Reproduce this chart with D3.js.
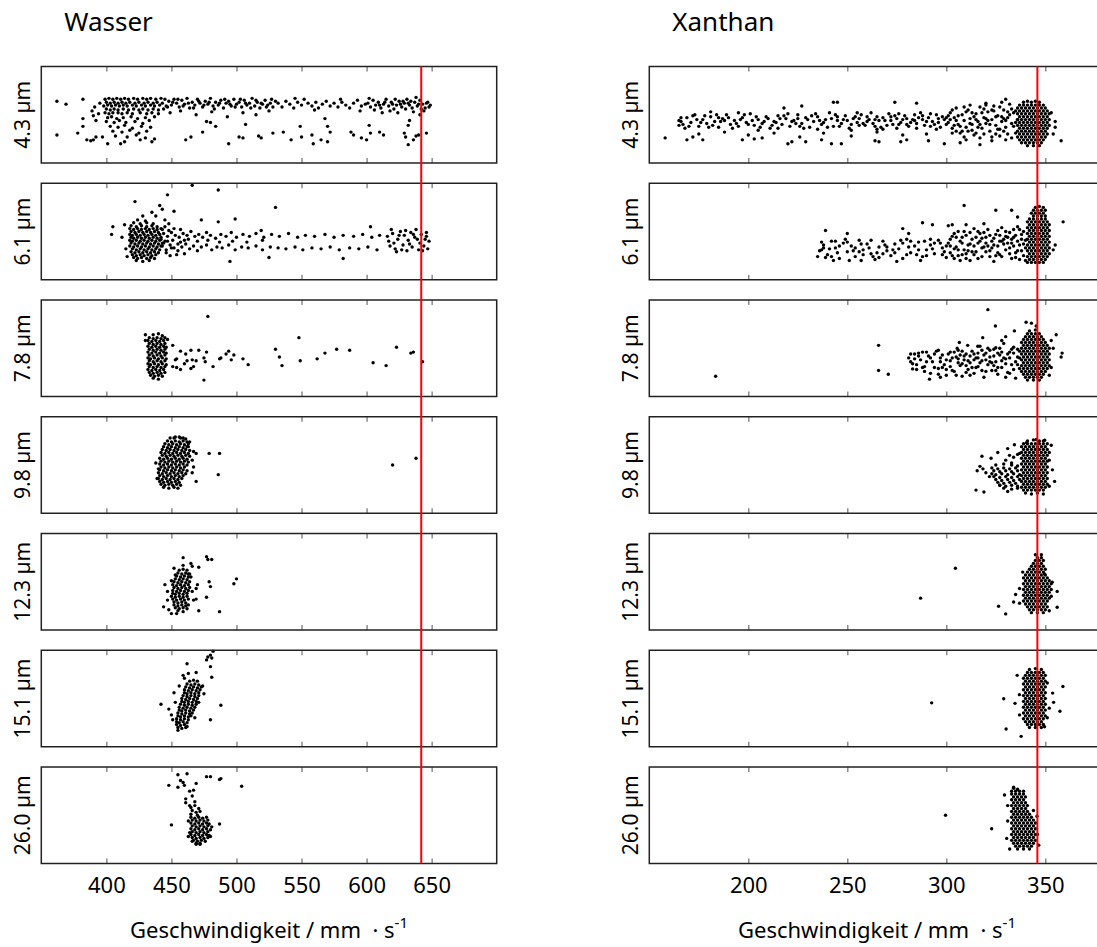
<!DOCTYPE html>
<html>
<head>
<meta charset="utf-8">
<script src="https://cdn.jsdelivr.net/npm/d3@7"></script>
<style>
  body { margin: 0; background: #fff; }
  text { font-family: "Noto Sans", "Open Sans", sans-serif; fill: #000; }
</style>
</head>
<body>
<script>
// particle diameters, one row of panels each
const diameters = ["4.3 µm", "6.1 µm", "7.8 µm", "9.8 µm", "12.3 µm", "15.1 µm", "26.0 µm"]
const wasserTicks = [400, 450, 500, 550, 600, 650]
const xanthanTicks = [200, 250, 300, 350]
const wasserLine = 642
const xanthanLine = 346

// points as flat lists: speed (mm/s), position in panel (0..100)
const wasser_43 = [
362,64, 369,61, 362,29, 382,66, 378,31, 382,46, 382,38, 385,24, 388,23, 390,24, 392,27, 397,27, 401,20, 411,20, 414,22, 426,24, 435,22, 437,25, 389,54, 391,58, 392,44, 390,49, 394,51, 395,62,
461,24, 465,27, 474,32, 477,43, 480,42, 484,38, 494,20, 502,27, 505,26, 507,40, 517,28, 519,26, 528,31, 536,32, 542,24, 549,38, 550,27, 559,20, 558,29, 565,24, 568,46, 570,38, 572,32, 570,22, 588,32, 590,29, 596,26, 600,24, 602,39, 603,31, 610,32, 613,29, 629,31, 630,27, 632,19, 636,24, 640,29, 632,39, 633,44, 646,31, 641,50, 638,28,
399,66, 402,67, 405,66, 408,67, 411,66, 414,67, 417,66, 421,67, 424,66, 428,67, 431,66, 434,67, 438,66, 442,67, 445,66,
400,63, 403,62, 406,63, 409,62, 412,63, 415,62, 418,63, 422,62, 425,63, 429,62, 432,63, 436,62, 439,63, 443,62,
398,59, 401,60, 404,59, 407,60, 410,59, 413,60, 416,59, 420,60, 423,59, 427,60, 430,59, 434,60, 437,59, 441,60, 446,59,
400,56, 403,55, 406,56, 409,55, 413,56, 417,55, 421,56, 425,55, 428,56, 432,55, 436,56, 440,55, 444,56,
399,52, 402,51, 405,52, 409,52, 412,51, 416,52, 420,51, 426,52, 431,51, 435,52, 440,51,
401,47, 404,48, 408,46, 413,47, 419,48, 424,46, 430,47, 437,48,
400,43, 406,42, 410,44, 415,42, 422,43, 428,41, 433,44,
403,38, 409,37, 414,39, 420,36, 427,38, 434,37,
405,33, 412,32, 418,34, 425,31, 431,33,
407,28, 416,27, 423,29, 430,26,
448,64, 450,60, 452,66, 454,62, 456,58, 458,65, 460,61, 462,67, 464,57, 466,63, 468,60, 470,66, 472,62, 474,58, 476,64, 478,61, 480,67, 482,59, 484,63, 486,60, 488,65, 490,57, 492,62, 494,64, 496,59, 498,66, 500,61, 502,63, 504,58, 506,65, 508,60, 510,62, 512,67, 514,59, 516,63, 518,57, 520,61, 522,65, 524,60, 526,62, 528,58, 530,64,
447,58, 451,63, 455,66, 459,59, 463,62, 467,57, 471,64, 475,60, 479,63, 483,56, 487,62, 491,66, 495,61, 499,58, 503,66, 507,62, 511,57, 515,65, 519,62, 523,58, 527,66,
449,52, 457,54, 469,50, 481,53, 493,48, 505,52, 515,50, 525,54,
532,62, 535,58, 538,64, 541,61, 544,57, 547,63, 550,60, 552,66, 555,62, 558,59, 561,63, 563,57, 566,61, 569,64, 572,59, 575,62, 578,58, 581,63, 584,60, 587,57, 590,62, 593,65, 596,59, 599,61, 545,67, 560,55, 580,66, 595,54,
601,62, 603,58, 605,65, 607,60, 609,63, 611,57, 613,61, 615,66, 617,59, 619,63, 621,56, 623,60, 625,64, 627,58, 629,62, 631,66, 633,60, 635,57, 637,63, 639,59, 641,65, 643,61, 645,57, 647,63, 649,60,
602,67, 606,55, 610,60, 614,63, 618,54, 622,66, 626,61, 630,56, 634,64, 638,68, 642,56, 646,62, 648,58, 624,52, 636,53, 644,54, 612,52, 620,61, 628,64, 640,61, 632,62
]

const wasser_61 = [
466,98, 486,93, 447,88, 422,81, 441,77, 443,73, 435,70, 438,66, 452,71, 530,75, 473,62, 486,60, 499,63, 405,55, 404,47, 519,51, 603,55, 495,19, 582,22, 525,23, 414,57, 412,44, 415,32, 416,24, 428,66, 445,62, 448,58,
424,62, 430,61, 421,59, 426,58, 431,59, 436,58,
419,56, 423,55, 427,56, 431,55, 435,56, 439,55,
418,53, 421,52, 424,53, 427,52, 430,53, 433,52, 436,53, 439,52, 442,53,
419,50, 422,49, 425,50, 428,49, 431,50, 434,49, 437,50, 440,49,
418,47, 420,46, 423,47, 426,46, 429,47, 432,46, 435,47, 438,46, 441,47,
419,44, 421,43, 424,44, 427,43, 430,44, 433,43, 436,44, 439,43, 442,44,
418,41, 420,40, 423,41, 426,40, 429,41, 432,40, 435,41, 438,40, 441,41,
419,38, 422,37, 425,38, 428,37, 431,38, 434,37, 437,38, 440,37, 443,38,
418,35, 421,34, 424,35, 427,34, 430,35, 433,34, 436,35, 439,34, 442,35,
420,32, 423,31, 426,32, 429,31, 432,32, 435,31, 438,32, 441,31,
419,29, 422,28, 425,29, 428,28, 431,29, 434,28, 437,29, 440,28,
420,26, 423,25, 426,26, 429,25, 432,26, 435,25, 438,26,
421,23, 424,22, 427,23, 431,22, 434,23, 437,22, 423,20, 428,19, 433,20,
444,48, 447,45, 450,49, 453,46, 456,44, 459,48, 462,46, 465,50, 468,45, 471,47, 474,44, 477,49, 480,46, 484,43, 488,47, 492,45, 496,49, 500,44, 505,47, 510,45, 515,48, 521,44, 527,47, 533,45, 540,48, 547,44, 553,46, 560,45, 568,47, 575,44, 582,46, 590,45, 597,47, 604,44, 610,46,
443,35, 446,31, 449,36, 452,33, 455,30, 458,34, 461,37, 464,32, 467,35, 470,30, 473,34, 477,36, 481,31, 485,34, 489,33, 494,36, 499,31, 504,34, 509,33, 515,35, 520,31, 526,34, 532,33, 538,32, 545,34, 551,31, 558,33, 565,32, 572,34, 579,31, 587,33, 594,32, 601,34, 608,31,
445,40, 451,41, 457,39, 463,42, 470,40, 478,41, 487,39, 497,40, 508,39, 520,41,
442,42, 443,52, 445,55, 446,28, 448,51, 449,25, 452,53, 454,26, 457,52, 460,27, 444,38, 447,40, 450,33, 455,37, 460,41,
616,45, 618,35, 620,48, 622,32, 624,42, 626,50, 628,36, 629,46, 631,30, 632,41, 634,49, 635,34, 637,44, 638,52, 640,31, 641,38, 642,47, 644,35, 645,42, 646,49, 647,32, 648,40, 617,40, 621,38, 625,46, 627,31, 630,51, 633,37, 636,47, 639,42, 643,30, 646,45, 619,52, 623,29
]

const wasser_78 = [
478,83, 430,64, 430,58, 451,53, 447,59, 457,47, 461,44, 465,48, 471,48, 477,46, 475,40, 476,36, 469,37, 466,38, 462,37, 454,39, 453,38, 451,31, 454,30, 457,28, 460,34, 465,29, 467,31, 475,17,
482,31, 487,39, 488,40, 492,44, 494,47, 498,43, 496,38, 505,39, 509,33, 530,49, 533,41, 535,32, 548,61, 549,37, 562,39, 568,45, 577,49, 587,48, 605,35, 615,32, 623,51, 634,45, 636,46, 643,36,
436,64, 440,65, 443,63,
433,61, 436,60, 439,61, 442,60, 445,61,
432,58, 435,57, 438,58, 441,57, 444,58,
433,55, 436,54, 439,55, 442,54, 445,55,
432,52, 435,51, 438,52, 441,51, 444,52, 446,51,
433,49, 436,48, 439,49, 442,48, 445,49,
432,46, 435,45, 438,46, 441,45, 444,46, 446,45,
433,43, 436,42, 439,43, 442,42, 445,43,
432,40, 434,39, 437,40, 440,39, 443,40, 446,39,
433,37, 436,36, 439,37, 442,36, 445,37,
432,34, 434,33, 437,34, 440,33, 443,34, 446,33,
433,31, 436,30, 439,31, 442,30, 445,31,
432,28, 435,27, 438,28, 441,27, 444,28,
433,25, 436,24, 439,25, 442,24, 445,25,
434,22, 437,21, 440,22, 443,21, 436,19, 440,18
]

const wasser_98 = [
440,46, 469,62, 467,64, 463,69, 464,74, 459,78, 456,79, 452,78, 479,62, 487,62, 486,40, 469,33, 466,42, 620,50, 638,57, 466,55, 467,48, 438,52, 439,36,
449,78, 453,79, 457,78, 461,77,
447,75, 450,74, 453,75, 456,74, 459,75, 462,74,
445,72, 448,71, 451,72, 454,71, 457,72, 460,71, 463,72,
444,69, 447,68, 450,69, 453,68, 456,69, 459,68, 462,69,
443,66, 446,65, 449,66, 452,65, 455,66, 458,65, 461,66, 464,65,
442,63, 445,62, 448,63, 451,62, 454,63, 457,62, 460,63, 463,62,
443,60, 446,59, 449,60, 452,59, 455,60, 458,59, 461,60, 464,59,
441,57, 444,56, 447,57, 450,56, 453,57, 456,56, 459,57, 462,56,
442,54, 445,53, 448,54, 451,53, 454,54, 457,53, 460,54, 463,53,
441,51, 444,50, 447,51, 450,50, 453,51, 456,50, 459,51, 462,50,
442,48, 445,47, 448,48, 451,47, 454,48, 457,47, 460,48,
441,45, 444,44, 447,45, 450,44, 453,45, 456,44, 459,45, 462,44,
440,42, 443,41, 446,42, 449,41, 452,42, 455,41, 458,42, 461,41,
441,39, 444,38, 447,39, 450,38, 453,39, 456,38, 459,39,
440,36, 443,35, 446,36, 449,35, 452,36, 455,35, 458,36,
441,33, 444,32, 447,33, 450,32, 453,33, 456,32,
442,30, 445,29, 448,30, 451,29, 454,30, 457,29,
444,27, 448,26, 452,27, 455,26
]

const wasser_123 = [
459,75, 459,67, 452,64, 453,57, 450,51, 445,47, 447,40, 447,31, 444,24, 448,21, 450,17, 454,17, 465,69, 466,66, 463,58, 471,65, 477,76, 478,73, 481,73, 479,50, 480,45, 470,47, 469,43, 477,34, 471,20, 487,19, 498,48, 500,53, 467,31, 469,32, 465,55, 466,40,
456,62, 459,63, 462,62,
455,59, 458,58, 461,59, 464,58,
454,56, 457,55, 460,56, 463,55,
453,53, 456,52, 459,53, 462,52,
452,50, 455,49, 458,50, 461,49, 464,50,
451,47, 454,46, 457,47, 460,46, 463,47,
452,44, 455,43, 458,44, 461,43, 464,44,
451,41, 454,40, 457,41, 460,40, 463,41,
451,38, 453,37, 456,38, 459,37, 462,38,
450,35, 453,34, 456,35, 459,34, 462,35,
451,32, 454,31, 457,32, 460,31, 463,32,
452,29, 455,28, 458,29, 461,28,
452,26, 455,25, 458,26, 461,25, 463,26,
453,23, 456,22, 459,23, 462,22, 455,20, 459,19
]

const wasser_151 = [
477,90, 480,95, 482,99, 481,92, 478,93, 480,83, 481,72, 462,86, 469,77, 463,76, 459,74, 460,71, 488,43, 480,28, 442,44, 448,39, 453,46, 450,33, 451,28, 452,56, 455,17, 462,21, 474,63, 475,55, 456,63, 471,46, 468,30,
464,68, 467,69, 470,68,
462,65, 465,64, 468,65, 471,64,
461,62, 464,61, 467,62, 470,61, 473,62,
460,59, 463,58, 466,59, 469,58, 472,59,
460,56, 462,55, 465,56, 468,55, 471,56,
459,53, 462,52, 465,53, 468,52, 471,53,
458,50, 461,49, 464,50, 467,49, 470,50,
458,47, 460,46, 463,47, 466,46, 469,47,
457,44, 460,43, 463,44, 466,43, 469,44,
456,41, 459,40, 462,41, 465,40, 468,41,
456,38, 458,37, 461,38, 464,37, 467,38,
455,35, 458,34, 461,35, 464,34, 466,35,
455,32, 457,31, 460,32, 463,31, 465,32,
454,29, 457,28, 460,29, 463,28,
454,26, 456,25, 459,26, 462,25,
454,23, 457,22, 460,23, 455,20, 458,19, 461,20
]

const wasser_260 = [
455,92, 462,93, 448,81, 457,86, 459,84, 460,81, 455,79, 469,83, 464,75, 467,76, 466,70, 461,67, 461,63, 468,64, 464,60, 477,90, 480,90, 487,87, 488,88, 504,80, 450,40, 487,41, 464,32, 466,23, 469,20, 472,21, 463,44, 481,38, 480,28, 463,28,
465,58, 468,60, 471,57, 466,55, 469,53, 472,54, 465,51, 470,50,
465,48, 468,47, 471,48, 474,47, 477,48,
466,45, 469,44, 472,45, 475,44, 478,45,
465,42, 468,41, 471,42, 474,41, 477,42, 479,41,
466,39, 469,38, 472,39, 475,38, 478,39,
465,36, 468,35, 471,36, 474,35, 477,36, 480,35,
466,33, 469,32, 472,33, 475,32, 478,33,
465,30, 468,29, 471,30, 474,29, 477,30, 479,29,
466,27, 469,26, 472,27, 475,26, 478,27,
467,24, 470,23, 473,24, 476,23, 469,21, 472,20
]

const xanthan_43 = [
158,26, 165,39, 166,43, 169,24, 172,27, 177,24, 181,53, 197,24, 203,25, 207,26, 218,57, 220,20, 222,22, 227,59, 229,22, 237,24, 242,20, 243,63, 245,63, 247,20, 264,23, 266,22, 274,63, 277,22, 280,24, 285,62, 291,23, 299,20, 307,21, 310,24, 317,19, 323,23, 358,23, 355,43, 355,37, 353,52, 354,30, 320,60, 330,66,
165,44, 167,40, 169,47, 171,42, 173,50, 175,38, 177,45, 179,41, 181,48, 183,43, 185,37, 187,46, 189,50, 191,40, 193,44, 195,38, 197,47, 199,42, 201,51, 203,39, 205,45, 207,41, 209,48, 211,36, 213,43, 215,49, 217,40, 219,46, 221,38, 223,44, 225,50, 227,41, 229,47, 231,37, 233,43, 235,48, 237,40, 239,45, 241,52, 243,38, 245,44, 247,41, 249,49, 251,36, 253,46, 255,42, 257,50, 259,39, 261,45, 263,41, 265,48, 267,37, 269,44, 271,51, 273,40, 275,46, 277,42, 279,49, 281,38, 283,45, 285,41, 287,52, 289,39, 291,47, 293,43, 295,50, 297,37, 299,45,
166,47, 170,38, 174,45, 178,49, 182,39, 186,43, 190,47, 194,41, 198,50, 202,44, 206,37, 210,46, 214,42, 218,49, 222,43, 226,38, 230,45, 234,51, 238,42, 242,46, 246,38, 250,44, 254,48, 258,41, 262,52, 266,44, 270,39, 274,49, 278,45, 282,42, 286,47, 290,43, 294,40, 298,48,
168,36, 172,49, 176,42, 180,37, 184,50, 188,44, 192,36, 196,45, 200,40, 204,48, 208,43, 212,39, 216,46, 220,51, 224,41, 228,36, 232,49, 236,44, 240,37, 244,50, 248,45, 252,34, 256,39, 260,48, 264,45, 268,35, 272,48, 276,51, 280,40, 284,44, 288,49, 292,51, 296,46, 300,40, 185,47, 195,52, 205,34, 215,36, 225,46, 235,35, 245,48, 255,52, 265,35, 275,36, 285,36, 295,35,
175,30, 188,32, 200,29, 213,31, 226,27, 238,31, 252,28, 265,32, 278,29, 290,30,
252,40, 256,46, 260,43, 264,38, 268,47, 272,44, 276,40, 280,46, 284,50, 288,45, 292,38, 296,42, 300,47,
301,42, 302,52, 303,36, 304,47, 305,57, 306,40, 307,31, 308,50, 309,44, 310,37, 311,55, 312,46, 313,40, 314,29, 315,51, 316,43, 317,58, 318,36, 319,47, 320,41, 321,53, 322,33, 323,45, 324,59, 325,39, 326,49, 327,28, 328,43, 329,55, 330,37, 331,47, 332,61, 333,41, 334,52, 335,31,
302,45, 304,39, 306,49, 308,33, 310,53, 312,41, 314,48, 316,37, 318,52, 320,46, 322,40, 324,54, 326,35, 328,48, 330,44, 332,50, 334,38, 336,45, 312,60, 320,62, 328,63, 305,33, 315,31, 325,30, 333,26, 330,24,
301,49, 303,55, 305,44, 307,38, 309,58, 311,33, 313,52, 315,45, 317,40, 319,30, 321,44, 323,55, 325,48, 327,35, 329,46, 331,30, 333,56, 335,42, 303,31, 309,27, 317,26, 323,27, 329,33, 335,54, 319,56, 327,58, 331,53, 313,34,
339,63, 341,64, 343,63, 345,64, 347,63,
337,60, 339,60, 341,60, 343,60, 345,60, 347,60, 349,60,
336,57, 338,57, 340,57, 342,57, 344,57, 346,57, 348,57, 350,57,
337,54, 339,54, 341,54, 343,54, 345,54, 347,54, 349,54, 351,54,
336,51, 338,51, 340,51, 342,51, 344,51, 346,51, 348,51, 350,51, 352,51,
337,48, 339,48, 341,48, 343,48, 345,48, 347,48, 349,48, 351,48,
336,45, 338,45, 340,45, 342,45, 344,45, 346,45, 348,45, 350,45, 352,45,
337,42, 339,42, 341,42, 343,42, 345,42, 347,42, 349,42, 351,42,
336,39, 338,39, 340,39, 342,39, 344,39, 346,39, 348,39, 350,39, 352,39,
337,36, 339,36, 341,36, 343,36, 345,36, 347,36, 349,36, 351,36,
336,33, 338,33, 340,33, 342,33, 344,33, 346,33, 348,33, 350,33,
337,30, 339,30, 341,30, 343,30, 345,30, 347,30, 349,30, 351,30,
336,27, 338,27, 340,27, 342,27, 344,27, 346,27, 348,27, 350,27,
337,24, 339,24, 341,24, 343,24, 345,24, 347,24, 349,24,
338,21, 340,21, 342,21, 344,21, 346,21, 348,21, 341,18, 344,18, 347,18
]

const xanthan_61 = [
309,77, 325,72, 333,72, 336,65, 359,60, 355,36, 354,31, 288,59, 293,57, 301,56, 303,57, 310,57, 319,58, 278,53, 281,48, 239,51, 235,24, 237,31, 250,48, 243,20, 257,20,
236,30, 238,36, 240,26, 242,40, 244,33, 246,22, 248,38, 250,29, 252,35, 254,24, 256,41, 258,31, 260,37, 262,27, 264,21, 266,34, 268,40, 270,30, 272,25, 274,37, 276,32, 278,22, 280,42, 282,28, 284,35, 286,39, 288,24, 290,31, 292,36, 294,27, 296,41, 298,33, 300,23,
237,39, 241,32, 245,28, 249,42, 253,30, 257,37, 261,33, 265,28, 269,36, 273,31, 277,41, 281,34, 285,26, 289,40, 293,32, 297,38, 239,23, 251,20, 263,24, 275,19, 287,20, 299,29,
238,33, 242,24, 246,35, 250,39, 254,33, 258,26, 262,41, 266,23, 270,34, 274,28, 278,38, 282,40, 286,31, 290,25, 294,38, 298,26, 244,40, 256,29, 268,27, 280,26, 292,42, 300,35,
301,38, 302,28, 303,45, 304,22, 305,34, 306,50, 307,40, 308,26, 309,31, 310,46, 311,36, 312,20, 313,42, 314,53, 315,29, 316,38, 317,48, 318,24, 319,34, 320,44, 321,52, 322,30, 323,40, 324,19, 325,47, 326,35, 327,26, 328,54, 329,42, 330,31, 331,38, 332,49, 333,22, 334,44, 335,28, 336,55, 337,36, 338,47, 339,25, 340,41,
302,42, 304,32, 306,25, 308,38, 310,27, 312,49, 314,35, 316,22, 318,43, 320,29, 322,46, 324,36, 326,51, 328,24, 330,45, 332,33, 334,52, 336,40, 338,30, 340,20, 317,40, 323,33, 329,37, 335,46, 311,30, 305,44, 327,40, 333,42, 339,50, 337,21,
302,35, 304,48, 306,31, 308,44, 310,22, 312,37, 314,26, 316,50, 318,33, 320,38, 322,24, 324,43, 326,28, 328,40, 330,50, 332,27, 334,35, 336,30, 338,42, 340,33, 303,25, 309,50, 315,44, 321,35, 327,46, 333,38, 339,37, 307,20, 313,29, 319,49, 325,25, 331,44, 337,52, 335,23,
345,75, 347,76, 349,75, 344,72, 346,72, 348,72, 350,72, 343,69, 345,69, 347,69, 349,69, 344,66, 346,66, 348,66, 350,66,
342,63, 344,63, 346,63, 348,63, 350,63,
341,60, 343,60, 345,60, 347,60, 349,60, 351,60,
342,57, 344,57, 346,57, 348,57, 350,57, 352,57,
341,54, 343,54, 345,54, 347,54, 349,54, 351,54,
342,51, 344,51, 346,51, 348,51, 350,51, 352,51,
341,48, 343,48, 345,48, 347,48, 349,48, 351,48,
342,45, 344,45, 346,45, 348,45, 350,45, 352,45,
341,42, 343,42, 345,42, 347,42, 349,42, 351,42,
342,39, 344,39, 346,39, 348,39, 350,39, 352,39,
341,36, 343,36, 345,36, 347,36, 349,36, 351,36,
342,33, 344,33, 346,33, 348,33, 350,33, 352,33,
341,30, 343,30, 345,30, 347,30, 349,30, 351,30,
342,27, 344,27, 346,27, 348,27, 350,27, 352,27,
341,24, 343,24, 345,24, 347,24, 349,24, 351,24,
342,21, 344,21, 346,21, 348,21, 350,21, 341,18, 343,18, 345,18, 347,18, 349,18
]

const xanthan_78 = [
183.5,21, 265.8,53, 265.8,27, 270.7,23, 321,90, 324.8,73, 340.3,77, 343,76, 345.4,73, 355.5,64, 358.5,45, 358,41, 334.4,68, 330,62, 328,58, 318.4,61, 306.6,56, 305.5,50, 310.8,53, 315.9,52, 325,50.5, 296,48, 291.5,18, 297,20, 283,28.6, 282,44, 284,39, 353,30, 354,50, 353,58, 352,22,
281,40, 283,34, 284,44, 285,28, 287,38, 288,46, 289,31, 291,42, 292,24, 293,36, 295,47, 296,29, 297,40, 299,33, 300,22, 301,44, 302,37, 303,27, 305,41, 306,48, 307,32, 308,21, 309,38, 310,44, 311,28, 312,35, 313,47, 314,24, 315,40, 316,31, 317,52, 318,37, 319,20, 320,45, 321,33, 322,41, 323,27, 324,49, 325,36, 326,23, 327,43, 328,30, 329,55, 330,39, 331,25, 332,46, 333,33, 334,51, 335,19, 336,41, 337,29,
282,36, 286,42, 290,36, 294,30, 298,43, 302,31, 304,46, 306,39, 308,34, 310,25, 312,42, 314,38, 316,45, 318,27, 320,38, 322,48, 324,32, 326,45, 328,37, 330,20, 332,40, 334,28, 336,49, 285,33, 289,26, 297,36, 303,40, 307,43, 311,37, 315,30, 319,43, 323,35, 327,50, 331,44, 335,36, 337,47,
286,45, 288,30, 292,40, 294,44, 296,23, 298,30, 300,38, 302,46, 304,26, 306,35, 308,47, 310,32, 312,22, 314,44, 316,40, 318,48, 320,26, 322,36, 324,42, 326,30, 328,46, 330,34, 332,24, 334,45, 336,33, 337,40, 290,46, 300,28, 309,42, 317,35, 325,27, 333,49, 321,50, 313,30, 305,22, 329,40,
342,68, 345,69, 341,65, 343,65, 345,65, 347,65, 340,62, 342,62, 344,62, 346,62, 348,62,
339,59, 341,59, 343,59, 345,59, 347,59, 349,59,
338,56, 340,56, 342,56, 344,56, 346,56, 348,56, 350,56,
339,53, 341,53, 343,53, 345,53, 347,53, 349,53, 351,53,
338,50, 340,50, 342,50, 344,50, 346,50, 348,50, 350,50, 352,50,
339,47, 341,47, 343,47, 345,47, 347,47, 349,47, 351,47,
338,44, 340,44, 342,44, 344,44, 346,44, 348,44, 350,44, 352,44,
339,41, 341,41, 343,41, 345,41, 347,41, 349,41, 351,41,
338,38, 340,38, 342,38, 344,38, 346,38, 348,38, 350,38, 352,38,
339,35, 341,35, 343,35, 345,35, 347,35, 349,35, 351,35,
338,32, 340,32, 342,32, 344,32, 346,32, 348,32, 350,32, 352,32,
339,29, 341,29, 343,29, 345,29, 347,29, 349,29, 351,29,
338,26, 340,26, 342,26, 344,26, 346,26, 348,26, 350,26,
339,23, 341,23, 343,23, 345,23, 347,23, 349,23,
340,20, 342,20, 344,20, 346,20, 348,20, 341,17, 344,17, 347,17
]

const xanthan_98 = [
315,24, 319,22, 315.6,44, 317,48.6, 318.5,46, 318,59, 322.6,57, 326,63, 331,67, 334.4,71, 331.9,60, 336,61, 321.8,38, 320,42, 327,29, 331,22.6, 354.7,33, 353.6,45, 352,63, 353,70.5, 349.7,75.7, 345.5,76.4, 340.5,73, 330,55, 334,58, 337,62, 333,52, 352,55, 352,28,
341,75, 344,76, 347,75, 349,75,
339,72, 341,72, 343,72, 345,72, 347,72, 349,72, 351,72,
338,69, 340,69, 342,69, 344,69, 346,69, 348,69, 350,69,
339,66, 341,66, 343,66, 345,66, 347,66, 349,66, 351,66,
338,63, 340,63, 342,63, 344,63, 346,63, 348,63, 350,63,
339,60, 341,60, 343,60, 345,60, 347,60, 349,60, 351,60,
338,57, 340,57, 342,57, 344,57, 346,57, 348,57, 350,57,
339,54, 341,54, 343,54, 345,54, 347,54, 349,54, 351,54,
338,51, 340,51, 342,51, 344,51, 346,51, 348,51, 350,51,
339,48, 341,48, 343,48, 345,48, 347,48, 349,48, 351,48,
338,45, 340,45, 342,45, 344,45, 346,45, 348,45, 350,45,
339,42, 341,42, 343,42, 345,42, 347,42, 349,42, 351,42,
338,39, 340,39, 342,39, 344,39, 346,39, 348,39, 350,39,
339,36, 341,36, 343,36, 345,36, 347,36, 349,36, 351,36,
338,33, 340,33, 342,33, 344,33, 346,33, 348,33, 350,33,
339,30, 341,30, 343,30, 345,30, 347,30, 349,30, 351,30,
338,27, 340,27, 342,27, 344,27, 346,27, 348,27, 350,27,
339,24, 341,24, 343,24, 345,24, 347,24, 349,24,
340,21, 343,20, 346,21, 349,20,
325,50, 329,51, 333,50, 336,49,
323,47, 326,46, 329,47, 332,46, 335,47,
324,44, 327,43, 330,44, 333,43, 336,44,
323,41, 325,40, 328,41, 331,40, 334,41, 337,40,
324,38, 327,37, 330,38, 333,37, 336,38,
325,35, 328,34, 331,35, 334,34, 337,35,
326,32, 329,31, 332,32, 335,31,
327,29, 330,28, 333,29, 336,28,
329,26, 333,25, 336,26
]

const xanthan_123 = [
287,33, 304.6,64, 326.4,24.6, 330,16.7, 335,36.8, 334,29, 337,27.7, 338.6,60, 353.5,49.6, 356,40, 356,23.6, 349.6,58, 353,35, 352,20, 337,43,
345,78, 348,78, 346,75, 348,75, 345,72, 347,72, 349,72, 344,69, 346,69, 348,69,
343,66, 345,66, 347,66, 349,66,
342,63, 344,63, 346,63, 348,63, 350,63,
341,60, 343,60, 345,60, 347,60, 349,60,
340,57, 342,57, 344,57, 346,57, 348,57, 350,57,
339,54, 341,54, 343,54, 345,54, 347,54, 349,54, 351,54,
340,51, 342,51, 344,51, 346,51, 348,51, 350,51, 352,51,
339,48, 341,48, 343,48, 345,48, 347,48, 349,48, 351,48, 353,48,
340,45, 342,45, 344,45, 346,45, 348,45, 350,45, 352,45,
339,42, 341,42, 343,42, 345,42, 347,42, 349,42, 351,42, 353,42,
340,39, 342,39, 344,39, 346,39, 348,39, 350,39, 352,39,
339,36, 341,36, 343,36, 345,36, 347,36, 349,36, 351,36,
340,33, 342,33, 344,33, 346,33, 348,33, 350,33, 352,33,
339,30, 341,30, 343,30, 345,30, 347,30, 349,30, 351,30,
340,27, 342,27, 344,27, 346,27, 348,27, 350,27,
341,24, 343,24, 345,24, 347,24, 349,24, 351,24,
342,21, 344,21, 346,21, 348,21, 350,21, 343,18, 346,18, 349,18
]

const xanthan_151 = [
292.6,45.5, 329,49.7, 330.2,18.4, 337.8,10.8, 335.8,74, 358.9,62.5, 353.7,55.6, 354.2,46, 357.4,36.8, 334.7,45, 336.9,54, 349.6,20.8, 351,30, 352,40, 337,33, 351,66,
342,80, 345,81, 348,80,
341,77, 343,77, 345,77, 347,77, 349,77,
340,74, 342,74, 344,74, 346,74, 348,74, 350,74,
339,71, 341,71, 343,71, 345,71, 347,71, 349,71,
340,68, 342,68, 344,68, 346,68, 348,68, 350,68,
339,65, 341,65, 343,65, 345,65, 347,65, 349,65,
340,62, 342,62, 344,62, 346,62, 348,62, 350,62,
339,59, 341,59, 343,59, 345,59, 347,59, 349,59,
340,56, 342,56, 344,56, 346,56, 348,56, 350,56,
339,53, 341,53, 343,53, 345,53, 347,53, 349,53,
340,50, 342,50, 344,50, 346,50, 348,50, 350,50,
339,47, 341,47, 343,47, 345,47, 347,47, 349,47,
340,44, 342,44, 344,44, 346,44, 348,44, 350,44,
339,41, 341,41, 343,41, 345,41, 347,41, 349,41,
340,38, 342,38, 344,38, 346,38, 348,38, 350,38,
339,35, 341,35, 343,35, 345,35, 347,35, 349,35,
340,32, 342,32, 344,32, 346,32, 348,32, 350,32,
339,29, 341,29, 343,29, 345,29, 347,29, 349,29,
340,26, 342,26, 344,26, 346,26, 348,26,
341,23, 343,23, 345,23, 347,23, 349,23, 342,20, 345,20, 348,20
]

const xanthan_260 = [
299.6,50, 322.9,36, 330.5,26, 329.4,71, 331,60, 332,15, 346.7,19, 345.8,49, 334,79, 346,30, 344,55, 331,44,
334,78, 336,77, 333,75, 335,75, 337,75, 339,75, 333,72, 335,72, 337,72, 339,72,
334,69, 336,69, 338,69, 340,69, 333,66, 335,66, 337,66, 339,66,
334,63, 336,63, 338,63, 340,63, 333,60, 335,60, 337,60, 339,60, 341,60,
334,57, 336,57, 338,57, 340,57, 333,54, 335,54, 337,54, 339,54, 341,54,
334,51, 336,51, 338,51, 340,51, 342,51,
333,48, 335,48, 337,48, 339,48, 341,48, 343,48,
334,45, 336,45, 338,45, 340,45, 342,45, 344,45,
333,42, 335,42, 337,42, 339,42, 341,42, 343,42, 345,42,
334,39, 336,39, 338,39, 340,39, 342,39, 344,39,
333,36, 335,36, 337,36, 339,36, 341,36, 343,36, 345,36,
334,33, 336,33, 338,33, 340,33, 342,33, 344,33,
333,30, 335,30, 337,30, 339,30, 341,30, 343,30, 345,30,
334,27, 336,27, 338,27, 340,27, 342,27, 344,27,
333,24, 335,24, 337,24, 339,24, 341,24, 343,24, 345,24,
334,21, 336,21, 338,21, 340,21, 342,21, 344,21,
335,18, 337,18, 339,18, 341,18, 343,18, 336,15, 339,15, 342,15
]

const wasserSets = [wasser_43, wasser_61, wasser_78, wasser_98, wasser_123, wasser_151, wasser_260]
const xanthanSets = [xanthan_43, xanthan_61, xanthan_78, xanthan_98, xanthan_123, xanthan_151, xanthan_260]

var width = 1097, height = 947
var panelW = 455.4, panelH = 96.5, top0 = 66.5, rowStep = 116.75

const columns = [
  {title: "Wasser", sets: wasserSets, domain: [350, 700], ticks: wasserTicks, line: wasserLine, left: 41.3},
  {title: "Xanthan", sets: xanthanSets, domain: [150, 380], ticks: xanthanTicks, line: xanthanLine, left: 649.3}
]

const svg = d3.select("body").append("svg").attr("width", width).attr("height", height)

columns.forEach(col => {
  const x = d3.scaleLinear().domain(col.domain).range([col.left, col.left + panelW])

  svg.append("text").attr("x", col.left + 23).attr("y", 31)
    .style("font-size", "26px").text(col.title)

  col.sets.forEach((set, i) => {
    const top = top0 + i * rowStep
    const y = d3.scaleLinear().domain([0, 100]).range([top + panelH, top])
    const pts = []
    for (let k = 0; k < set.length; k += 2) pts.push([set[k], set[k + 1]])

    const g = svg.append("g")
    g.selectAll("circle").data(pts).join("circle")
      .attr("cx", d => x(d[0])).attr("cy", d => y(d[1])).attr("r", 1.7).attr("fill", "#000")

    // inward ticks top and bottom, labels only under the last panel
    const bottom = g.append("g").attr("transform", `translate(0, ${top + panelH})`)
      .call(d3.axisBottom(x).tickValues(col.ticks).tickSize(-5).tickPadding(14)
        .tickFormat(i == col.sets.length - 1 ? d3.format("d") : ""))
    const topAxis = g.append("g").attr("transform", `translate(0, ${top})`)
      .call(d3.axisTop(x).tickValues(col.ticks).tickSize(-5).tickFormat(""))
    ;[bottom, topAxis].forEach(a => {
      a.select(".domain").remove()
      a.selectAll(".tick line").attr("stroke", "#7a7a7a").attr("stroke-width", 1.3)
      a.selectAll(".tick text").style("font-size", "22px").style("font-family", "'Noto Sans', sans-serif").attr("fill", "#000")
    })

    g.append("rect").attr("x", col.left).attr("y", top).attr("width", panelW).attr("height", panelH)
      .attr("fill", "none").attr("stroke", "#222").attr("stroke-width", 1.5)

    g.append("text")
      .attr("transform", `translate(${col.left - 11}, ${top + panelH / 2}) rotate(-90)`)
      .attr("text-anchor", "middle").style("font-size", "21px").text(diameters[i])
  })

  svg.append("line")
    .attr("x1", x(col.line)).attr("x2", x(col.line))
    .attr("y1", top0).attr("y2", top0 + 6 * rowStep + panelH)
    .attr("stroke", "#ff0000").attr("stroke-width", 2)

  const label = svg.append("text").attr("x", col.left + panelW / 2).attr("y", 938)
    .attr("text-anchor", "middle").style("font-size", "22px").style("white-space", "pre")
  label.append("tspan").text("Geschwindigkeit / mm  \u00B7 s")
  label.append("tspan").attr("baseline-shift", "super").style("font-size", "15px").text("-1")
})
</script>
</body>
</html>
